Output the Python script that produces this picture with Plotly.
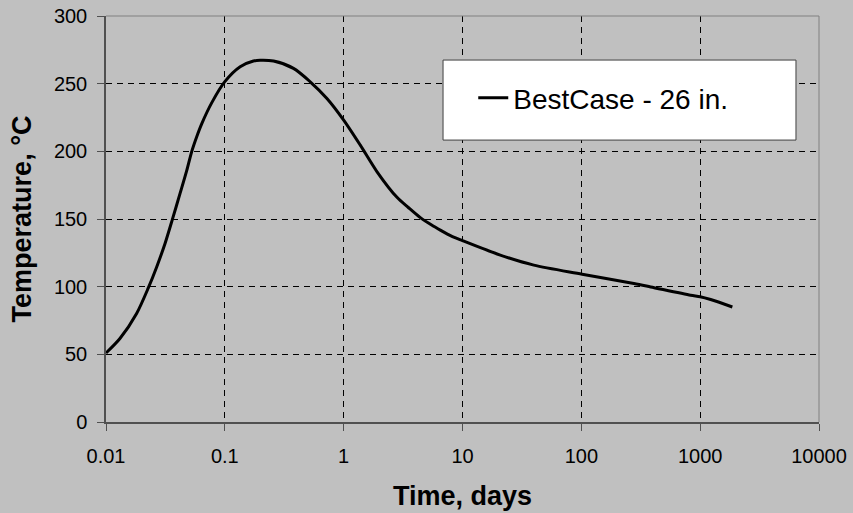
import plotly.graph_objects as go

# Data
time_days = [0.01, 0.0131, 0.0181, 0.0227, 0.0267, 0.0314, 0.0362, 0.042, 0.0479,
             0.0527, 0.0581, 0.064, 0.0777, 0.1, 0.1346, 0.174, 0.198, 0.257, 0.378,
             0.523, 0.723, 1.0, 1.38, 1.91, 2.81, 3.5, 4.42, 5.5, 6.5, 8.0, 10.0,
             20.8, 39.8, 101.6, 277, 383, 832, 1000, 1225, 1866]
temperature_c = [51, 61.7, 80.2, 99.1, 114.6, 131.9, 149.7, 168.9, 186.1,
                 200, 211, 220.5, 236, 251.5, 262.5, 266.7, 267.3, 266.7, 261.3,
                 251.4, 239.1, 223.1, 204.6, 184.9, 166, 158.5, 151, 145.5, 141.8, 137.5, 134,
                 123.3, 115.9, 109.2, 102.3, 99.8, 93.7, 92.6, 90.5, 85]
series_name = "BestCase - 26 in."
x_tickvals = [0.01, 0.1, 1, 10, 100, 1000, 10000]
x_ticktext = ["0.01", "0.1", "1", "10", "100", "1000", "10000"]
y_tickvals = [0, 50, 100, 150, 200, 250, 300]

FONT = "Liberation Sans, Arial, sans-serif"
BG = "#c0c0c0"

fig = go.Figure()
fig.add_trace(go.Scatter(
    x=time_days, y=temperature_c, mode="lines", name=series_name,
    line=dict(color="black", width=3, shape="spline", smoothing=0.8),
))

fig.update_layout(
    width=853, height=513,
    paper_bgcolor=BG, plot_bgcolor=BG,
    margin=dict(l=106, r=34, t=16, b=91),
    font=dict(family=FONT, color="black", size=20),
    showlegend=True,
    legend=dict(
        x=0.6974, y=0.798, xanchor="center", yanchor="middle",
        bgcolor="rgba(0,0,0,0)", borderwidth=0,
        font=dict(family=FONT, size=28, color="black"),
        itemwidth=30,
    ),
    shapes=[
        # legend frame
        dict(type="rect", xref="paper", yref="paper",
             x0=0.4727, x1=0.9677, y0=0.6944, y1=0.8915,
             fillcolor="white", line=dict(color="#404040", width=1), layer="above"),
        # top and right plot border
        dict(type="line", xref="paper", yref="paper", x0=0, x1=1, y0=1, y1=1,
             line=dict(color="#808080", width=1)),
        dict(type="line", xref="paper", yref="paper", x0=1, x1=1, y0=0, y1=1,
             line=dict(color="#808080", width=1)),
    ],
)

fig.update_xaxes(
    type="log", range=[-2, 4], automargin=False,
    tickvals=x_tickvals, ticktext=x_ticktext,
    showgrid=True, gridcolor="black", gridwidth=1, griddash="6px,5px",
    showline=True, linecolor="#505050", linewidth=1.5,
    ticks="outside", ticklen=7, tickcolor="#505050", tickwidth=1,
    ticklabelstandoff=8,
    tickfont=dict(family=FONT, size=20, color="black"),
    zeroline=False,
    title=dict(text="<b>Time, days</b>", font=dict(family=FONT, size=27, color="black"),
               standoff=20),
)
fig.update_yaxes(
    range=[0, 300], automargin=False, tickvals=y_tickvals,
    showgrid=True, gridcolor="black", gridwidth=1, griddash="6px,5px",
    showline=True, linecolor="#505050", linewidth=1.5,
    ticks="outside", ticklen=7, tickcolor="#505050", tickwidth=1,
    ticklabelstandoff=6,
    tickfont=dict(family=FONT, size=20, color="black"),
    zeroline=False,
    title=dict(text="<b>Temperature, °C</b>", font=dict(family=FONT, size=27, color="black"),
               standoff=14),
)

fig.write_html("out.html")
